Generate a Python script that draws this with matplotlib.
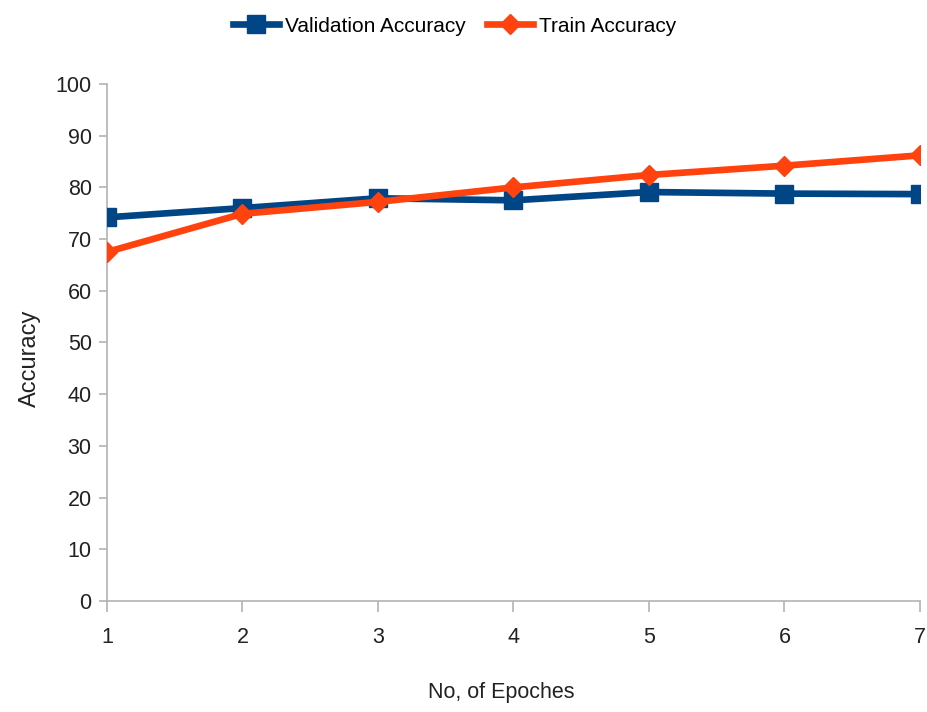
import matplotlib
matplotlib.use('Agg')
import matplotlib.pyplot as plt

plt.rcParams['font.family'] = ['Liberation Sans', 'DejaVu Sans']

# 数据
epochs = [1, 2, 3, 4, 5, 6, 7]
val_acc = [74.2, 76.0, 77.9, 77.5, 79.1, 78.8, 78.7]
train_acc = [67.5, 74.9, 77.2, 80.0, 82.4, 84.2, 86.2]

fig = plt.figure(figsize=(9.28, 7.12), dpi=100)
ax = fig.add_axes([0.1153, 0.156, 0.876, 0.726])

l1, = ax.plot(epochs, val_acc, color='#004586', lw=4.8, marker='s', markersize=13,
              label='Validation Accuracy', zorder=3)
l2, = ax.plot(epochs, train_acc, color='#ff420e', lw=4.8, marker='D', markersize=10,
              label='Train Accuracy', zorder=4)

ax.set_xlim(1, 7)
ax.set_ylim(0, 100)
ax.set_xticks(epochs)
ax.set_yticks(range(0, 101, 10))
for s in ['top', 'right']:
    ax.spines[s].set_visible(False)
for s in ['left', 'bottom']:
    ax.spines[s].set_color('#b3b3b3')
    ax.spines[s].set_linewidth(1.2)
ax.tick_params(colors='#b3b3b3', labelcolor='#222222', labelsize=15.5, length=6, width=1.2)
ax.tick_params(axis='x', pad=11, length=8)
ax.tick_params(axis='y', pad=5)

ax.set_xlabel('No, of Epoches', fontsize=15.5, color='#222222')
ax.set_ylabel('Accuracy', fontsize=17, color='#222222')
ax.xaxis.set_label_coords(0.485, -0.157)
ax.yaxis.set_label_coords(-0.081, 0.47)

fig.legend(handles=[l1, l2], loc='upper center', bbox_to_anchor=(0.49, 1.003), ncol=2,
           frameon=False, fontsize=15, handlelength=2.2, columnspacing=1.0, handletextpad=0.3)

fig.savefig('out.png', dpi=100)
